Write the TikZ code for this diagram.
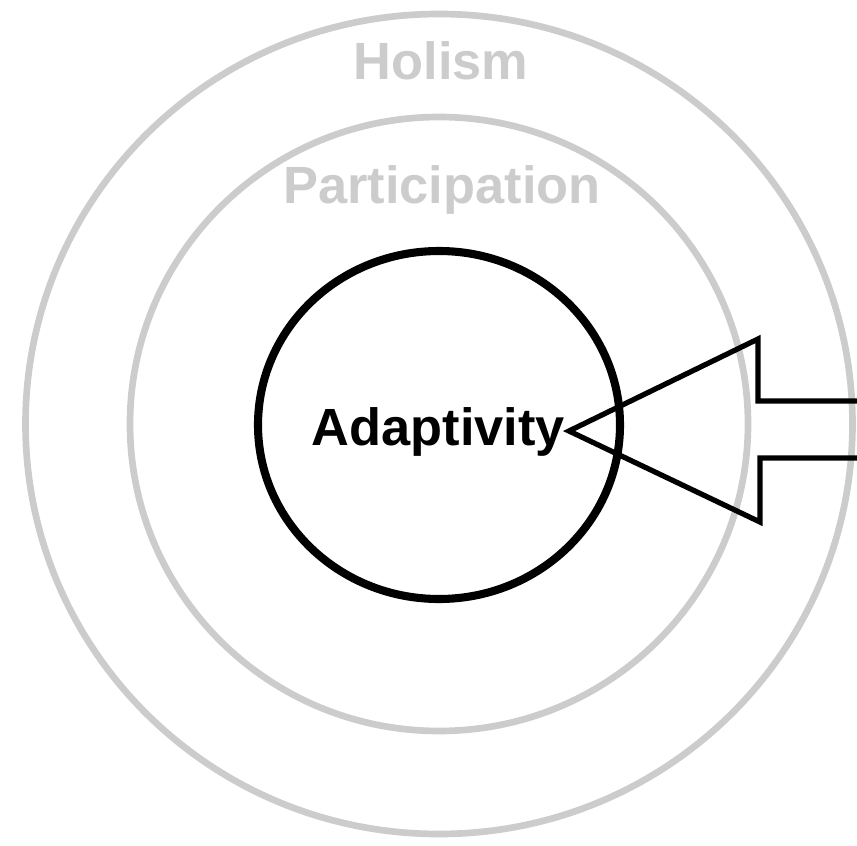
\documentclass[tikz,border=0pt]{standalone}
\usepackage{fontspec}
\setmainfont{Liberation Sans}
\usepackage{tikz}
\usetikzlibrary{calc}

\definecolor{ringgray}{RGB}{204,204,204}
\tikzset{
	ring/.style={draw=ringgray, line width=1.9pt},
	ringlabel/.style={text=ringgray, anchor=base, font=\fontsize{14.9}{18}\selectfont\bfseries},
	corelabel/.style={anchor=base, font=\fontsize{14.9}{18}\selectfont\bfseries}
}

\begin{document}
\begin{tikzpicture}
				\useasboundingbox (0,0) rectangle (8.57,8.45);
				\coordinate (c) at (4.39,4.21);
				
				% rings
				\draw [ring] (c) ellipse [x radius=4.135, y radius=4.10];
				\draw [ring] (c) ellipse [x radius=3.09, y radius=3.07];
				\draw [line width=2.3pt] (4.39,4.20) ellipse [x radius=1.81, y radius=1.74];
				
				\node [ringlabel] (holism) at (4.41,7.65) {Holism};
				\node [ringlabel] (particip) at (4.42,6.42) {Participation};
				\node [corelabel] (adapt) at (4.385,4.00) {Adaptivity};
				
				% block arrow
				\coordinate (tip) at (5.69,4.14);
				\draw [line width=1.5pt, line join=miter] (8.7,4.44) -- (7.58,4.44) -- (7.58,5.06) -- (tip) -- (7.60,3.23) -- (7.60,3.87) -- (8.7,3.87);
\end{tikzpicture}
\end{document}
